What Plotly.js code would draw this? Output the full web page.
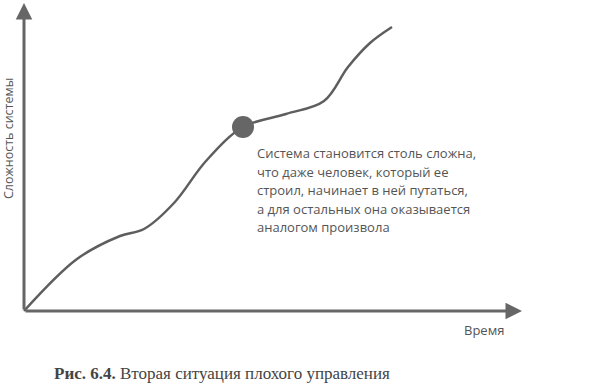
<!DOCTYPE html>
<html><head><meta charset="utf-8">
<script src="https://cdn.plot.ly/plotly-3.0.1.min.js"></script>
<style>body{margin:0;background:#fff}#c{width:600px;height:384px}</style>
</head><body><div id="c"></div>
<script>
// Time (x) and system complexity (y), in chart units measured from the origin
const timeVals = [0, 53, 96, 120, 150, 182, 219, 262, 300, 324, 346, 368];
const complexityVals = [0, 52, 75, 82, 108, 150, 184, 197, 210, 244, 268, 284];
const pointTime = [219];
const pointComplexity = [184];
const xAxisEnd = 498;
const yAxisEnd = 308;
const xLabel = 'Время';
const yLabel = 'Сложность системы';
const noteLines = ['Система становится столь сложна,', 'что даже человек, который ее', 'строил, начинает в ней путаться,', 'а для остальных она оказывается', 'аналогом произвола'];
const captionText = '<b>Рис. 6.4.</b> Вторая ситуация плохого управления';

const grey = '#666666';
const textGrey = '#555555';
const sans = 'Open Sans, Noto Sans, sans-serif';

const traces = [
  {x: timeVals, y: complexityVals, mode: 'lines', line: {shape: 'spline', smoothing: 1, color: '#5e5e5e', width: 2.5}, hoverinfo: 'none'},
  {x: pointTime, y: pointComplexity, mode: 'markers', marker: {size: 22, color: grey}, hoverinfo: 'none'}
];

const annotations = [
  {x: xAxisEnd, y: 0, ax: 0, ay: 0, xref: 'x', yref: 'y', axref: 'x', ayref: 'y', showarrow: true, arrowhead: 2, arrowsize: 1.1, arrowwidth: 3, arrowcolor: grey, text: '', standoff: 0, startstandoff: 0},
  {x: 0, y: yAxisEnd, ax: 0, ay: 0, xref: 'x', yref: 'y', axref: 'x', ayref: 'y', showarrow: true, arrowhead: 2, arrowsize: 1.1, arrowwidth: 3, arrowcolor: grey, text: '', standoff: 0, startstandoff: 0},
  {x: 438, y: -19, xref: 'x', yref: 'y', xanchor: 'left', yanchor: 'middle', showarrow: false, text: xLabel, font: {family: sans, size: 13, color: textGrey}},
  {x: -16, y: 172, xref: 'x', yref: 'y', xanchor: 'center', yanchor: 'middle', textangle: -90, showarrow: false, text: yLabel, font: {family: sans, size: 12.5, color: textGrey}},
  {x: 28, y: -62, xref: 'x', yref: 'y', xanchor: 'left', yanchor: 'middle', showarrow: false, text: captionText, font: {family: 'Liberation Serif, DejaVu Serif, serif', size: 17, color: '#444'}}
];
noteLines.forEach((t, i) => {
  annotations.push({x: 231, y: 158 - i * 18.5, xref: 'x', yref: 'y', xanchor: 'left', yanchor: 'middle', showarrow: false, text: t, font: {family: sans, size: 13, color: textGrey}});
});

const layout = {
  width: 600, height: 384,
  margin: {l: 0, r: 0, t: 0, b: 0},
  paper_bgcolor: '#fff', plot_bgcolor: '#fff',
  showlegend: false,
  xaxis: {range: [-24, 576], visible: false, fixedrange: true},
  yaxis: {range: [-73, 311], visible: false, fixedrange: true},
  annotations: annotations
};
Plotly.newPlot('c', traces, layout, {staticPlot: true, displayModeBar: false});
</script></body></html>
